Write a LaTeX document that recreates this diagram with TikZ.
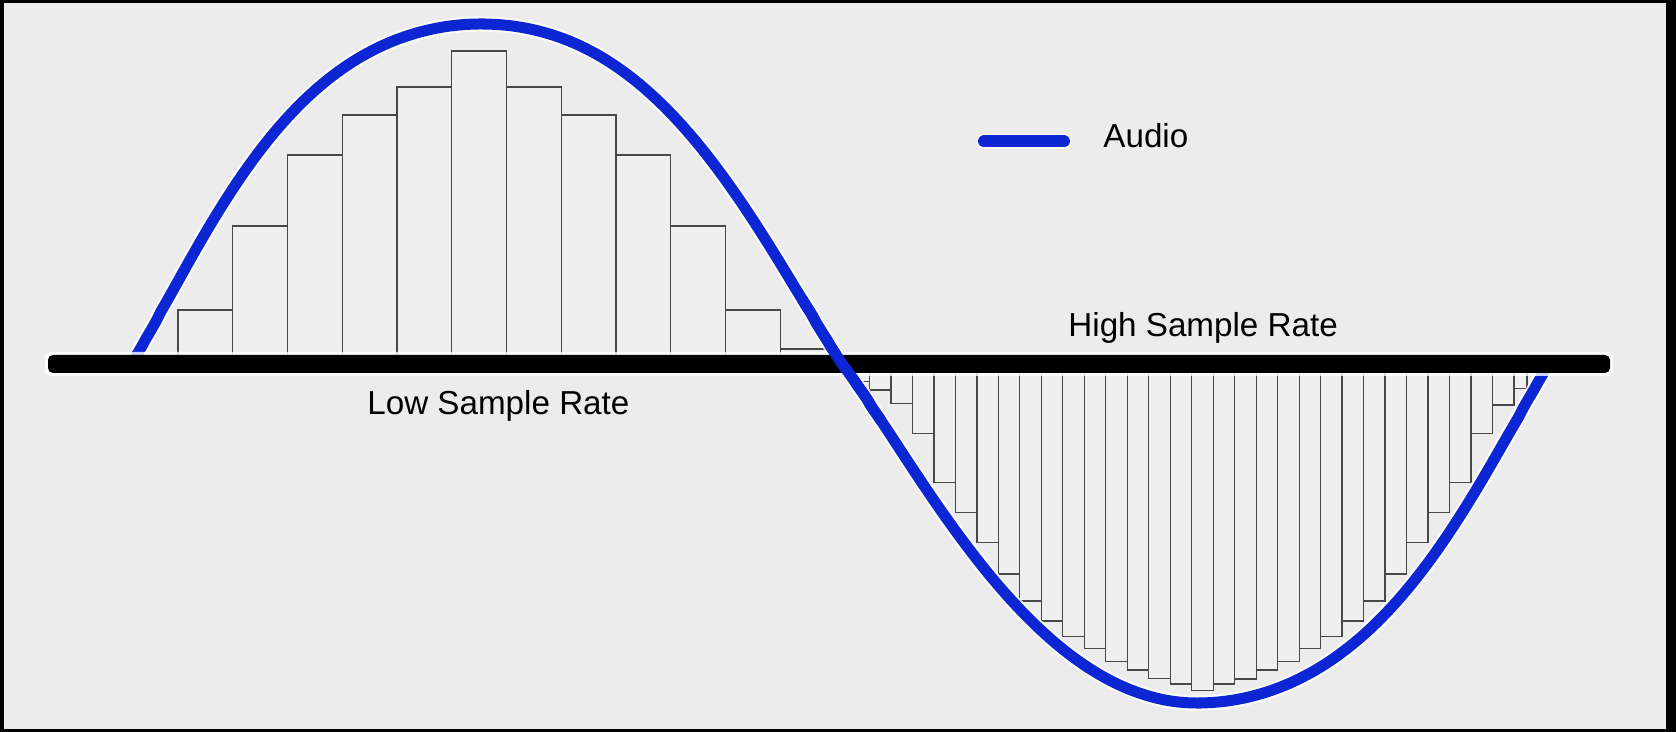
\documentclass[tikz,border=0pt]{standalone}
\usepackage{fontspec}
\setmainfont{Liberation Sans}
\definecolor{bg}{RGB}{236,236,236}
\definecolor{barfill}{RGB}{239,239,239}
\definecolor{baredge}{RGB}{72,72,72}
\definecolor{audioblue}{RGB}{12,38,212}
\begin{document}
\begin{tikzpicture}[x=0.5pt,y=-0.5pt,
  declare function={
    uly(\t)=364-340*pow(max(cos(\t),0.0001),0.62+0.38*pow(max(\t,0.01)/90,2));
    ury(\t)=364-340*pow(max(cos(\t),0.0001),0.62+0.38*pow(max(\t,0.01)/90,1.3));
    lly(\t)=364+339*pow(max(cos(\t),0.0001),0.9+0.15*pow(max(\t,0.01)/90,2));
    lry(\t)=364+339*pow(max(cos(\t),0.0001),0.66+0.33*pow(max(\t,0.01)/90,2));
  },
  samplebar/.style={draw=baredge, fill=barfill, line width=0.6pt},
  audioline/.style={draw=audioblue, line width=5.5pt},
  audiohalo/.style={draw=white, line width=7.6pt, opacity=0.75},
  txt/.style={font=\fontsize{16.6}{20}\selectfont, inner sep=0pt, anchor=base west, text=black}]
\useasboundingbox (0,0) rectangle (1676,732);
% frame and background
\fill[black] (0,0) rectangle (1676,732);
\fill[bg] (4,3) rectangle (1666,729);
% low sample rate bars
\foreach \i/\t in {0/310,1/226,2/155,3/115,4/87,5/51,6/87,7/115,8/155,9/226,10/310,11/349}
  \draw[samplebar] ({178+\i*54.75},\t) rectangle ({178+(\i+1)*54.75},364);
% high sample rate bars
\foreach \k/\b in {-16/381.7,-15/390,-14/403.3,-13/433.3,-12/482.7,-11/512.7,-10/542.3,-9/574,-8/601,-7/621,-6/636.3,-5/648.3,-4/661.7,-3/670,-2/678.3,-1/684,0/690.7,1/684,2/679,3/670,4/661.7,5/648.3,6/636.3,7/621,8/601,9/574,10/542.3,11/512.3,12/482.3,13/433.3,14/405}
  \draw[samplebar] ({1191.7+\k*21.48},364) rectangle ({1191.7+(\k+1)*21.48},\b);
\draw[samplebar] ({1191.7+15*21.48},364) rectangle (1527,388.3);
% audio curve
\foreach \sty in {audiohalo,audioline}
  \draw[\sty] plot[domain=90:0,samples=70] ({481-3.888889*\x},{uly(\x)})
    -- plot[domain=0:90,samples=70] ({481+4.011111*\x},{ury(\x)})
    -- plot[domain=90:0,samples=70] ({1197-3.944444*\x},{lly(\x)})
    -- plot[domain=0:90,samples=70] ({1197+3.911111*\x},{lry(\x)});
% axis
\fill[white, opacity=0.8, rounded corners=3pt] (45,352) rectangle (1613,376);
\fill[black, rounded corners=2.5pt] (48,355) rectangle (1610,373);
% curve crossing over the axis
\draw[audioline] plot[domain=80:90,samples=12] ({481+4.011111*\x},{ury(\x)})
  -- plot[domain=90:80,samples=12] ({1197-3.944444*\x},{lly(\x)});
% legend
\coordinate (legA) at (984,141.5);
\coordinate (legB) at (1064,141.5);
\draw[draw=white, opacity=0.7, line width=7.5pt, line cap=round] (legA) -- (legB);
\draw[audioblue, line width=6pt, line cap=round] (legA) -- (legB);
\node[txt] (audiolabel) at (1103,148) {Audio};
% labels
\node[txt] (highlabel) at (1068,337) {High Sample Rate};
\node[txt] (lowlabel) at (367,415) {Low Sample Rate};
\end{tikzpicture}
\end{document}
